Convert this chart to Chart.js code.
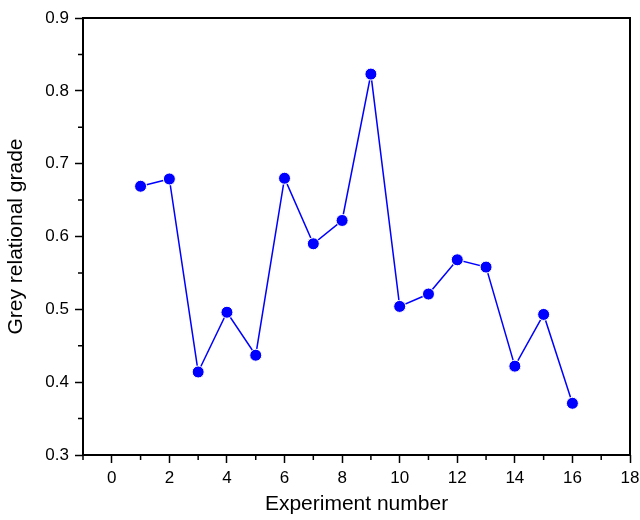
<!DOCTYPE html>
<html>
<head>
<meta charset="utf-8">
<script src="https://cdn.jsdelivr.net/npm/chart.js@4"></script>
<style>
  html, body { margin: 0; padding: 0; background: #fff; }
  #wrap { width: 640px; height: 520px; }
</style>
</head>
<body>
<div id="wrap"><canvas id="chart" width="640" height="520"></canvas></div>
<script>
// Experiment number vs grey relational grade
const experiments = [1, 2, 3, 4, 5, 6, 7, 8, 9, 10, 11, 12, 13, 14, 15, 16];
const greyGrade = [0.669, 0.679, 0.414, 0.496, 0.437, 0.680, 0.590, 0.622, 0.823, 0.504, 0.521, 0.568, 0.558, 0.422, 0.493, 0.371];

const xTitle = 'Experiment number';
const yTitle = 'Grey relational grade';

const font = 'Liberation Sans, Arial, sans-serif';

const isMajorX = v => v >= 0 && v % 2 === 0;
const isMajorY = v => Math.round(v * 100) % 10 === 0;

// box round the plot area, plus the short minor ticks
const frame = {
    id: 'frame',
    afterDraw(chart) {
        const a = chart.chartArea;
        const c = chart.ctx;
        c.save();
        c.strokeStyle = '#000';
        c.lineWidth = 1.5;
        c.beginPath();
        chart.scales.x.ticks.forEach(t => {
            if (isMajorX(t.value)) return;
            const px = chart.scales.x.getPixelForValue(t.value);
            c.moveTo(px, a.bottom);
            c.lineTo(px, a.bottom + 5);
        });
        chart.scales.y.ticks.forEach(t => {
            if (isMajorY(t.value)) return;
            const py = chart.scales.y.getPixelForValue(t.value);
            c.moveTo(a.left, py);
            c.lineTo(a.left - 5, py);
        });
        c.stroke();
        c.lineWidth = 2;
        c.strokeRect(a.left, a.top, a.right - a.left, a.bottom - a.top);
        c.restore();
    }
};

const ctx = document.getElementById('chart').getContext('2d');
new Chart(ctx, {
    type: 'line',
    data: {
        datasets: [{
            data: experiments.map((x, i) => ({ x: x, y: greyGrade[i] })),
            borderColor: '#0000ff',
            backgroundColor: '#0000ff',
            borderWidth: 1.5,
            pointRadius: 6,
            pointBorderWidth: 1,
            pointBorderColor: '#ffffff',
            pointBackgroundColor: '#0000ff',
            tension: 0
        }]
    },
    options: {
        responsive: false,
        animation: false,
        layout: { padding: { top: 18, right: 10, left: 0, bottom: 0 } },
        plugins: {
            legend: { display: false },
            tooltip: { enabled: false }
        },
        scales: {
            x: {
                type: 'linear',
                min: -1,
                max: 18,
                border: { display: false },
                grid: {
                    drawOnChartArea: false, drawTicks: true, tickLength: 8, tickWidth: 1.5,
                    tickColor: c => isMajorX(c.tick.value) ? '#000' : 'rgba(0,0,0,0)'
                },
                ticks: {
                    stepSize: 1,
                    autoSkip: false,
                    color: '#000',
                    font: { family: font, size: 17 },
                    padding: 5,
                    callback: v => isMajorX(v) ? String(v) : ''
                },
                title: { display: true, text: xTitle, color: '#000', font: { family: font, size: 21 }, padding: { top: 2, bottom: 3 } },
                afterFit: s => {
                    s.height = 520 - 455;
                    s.paddingLeft = 0;
                    s.paddingRight = 0;
                }
            },
            y: {
                min: 0.3,
                max: 0.9,
                border: { display: false },
                grid: {
                    drawOnChartArea: false, drawTicks: true, tickLength: 8, tickWidth: 1.5,
                    tickColor: c => isMajorY(c.tick.value) ? '#000' : 'rgba(0,0,0,0)'
                },
                ticks: {
                    stepSize: 0.05,
                    autoSkip: false,
                    color: '#000',
                    font: { family: font, size: 17 },
                    padding: 6,
                    callback: v => isMajorY(v) ? (Math.round(v * 100) / 100).toFixed(1) : ''
                },
                title: { display: true, text: yTitle, color: '#000', font: { family: font, size: 21 }, padding: { top: 4, bottom: 6 } },
                afterFit: s => { s.width = 83; }
            }
        }
    },
    plugins: [frame]
});
</script>
</body>
</html>
